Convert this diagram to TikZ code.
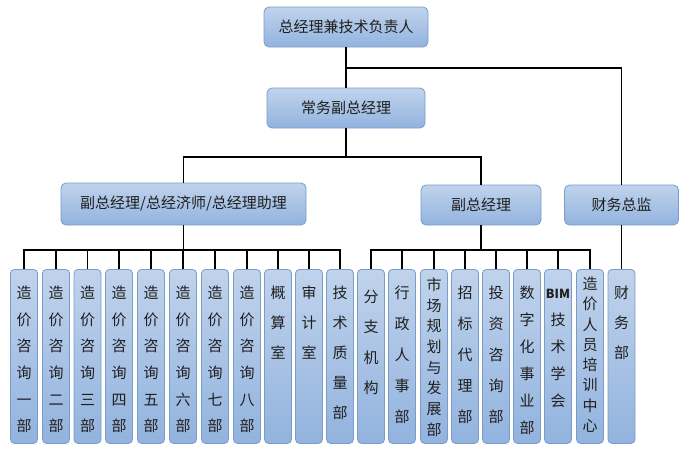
\documentclass[tikz,border=0pt]{standalone}
\usepackage{fontspec}
\setmainfont{Noto Sans CJK SC}
\definecolor{boxtop}{RGB}{192,211,236}
\definecolor{boxbot}{RGB}{146,179,222}
\definecolor{boxline}{RGB}{122,156,202}
% vertical text: baseline of first char, line spacing, chars
\newcommand\vtext[3]{\parbox[c][174pt][t]{27pt}{\centering\baselineskip=#2\relax\rule{0pt}{#1}#3\par}}

\begin{document}
\begin{tikzpicture}[x=1pt,y=-1pt,
	box/.style={draw=boxline, line width=0.8pt, rounded corners=5pt, top color=boxtop, bottom color=boxbot, inner sep=0pt, text=black!88, font=\fontsize{15}{18}\selectfont},
	head/.style={box, minimum height=40pt},
	dept/.style={box, rounded corners=4pt, minimum width=27pt, minimum height=174pt, anchor=north},
	link/.style={line width=1.6pt, black}]
	\useasboundingbox (0,0) rectangle (689,455);

	% top levels
	\node[head, minimum width=164pt] (ceo) at (346,27) {总经理兼技术负责人};
	\node[head, minimum width=158pt] (evp) at (346,108) {常务副总经理};
	\node[head, minimum width=245pt, minimum height=42pt] (vpl) at (183.5,204) {副总经理/总经济师/总经理助理};
	\node[head, minimum width=120pt] (vpr) at (481,205) {副总经理};
	\node[head, minimum width=114pt] (cfo) at (621.5,205) {财务总监};

	% departments under vpl
	\node[dept] (d1) at (24,269) {\vtext{29pt}{26.7pt}{造\\价\\咨\\询\\一\\部}};
	\node[dept] (d2) at (56,269) {\vtext{29pt}{26.7pt}{造\\价\\咨\\询\\二\\部}};
	\node[dept] (d3) at (87.5,269) {\vtext{29pt}{26.7pt}{造\\价\\咨\\询\\三\\部}};
	\node[dept] (d4) at (119,269) {\vtext{29pt}{26.7pt}{造\\价\\咨\\询\\四\\部}};
	\node[dept] (d5) at (151,269) {\vtext{29pt}{26.7pt}{造\\价\\咨\\询\\五\\部}};
	\node[dept] (d6) at (183,269) {\vtext{29pt}{26.7pt}{造\\价\\咨\\询\\六\\部}};
	\node[dept] (d7) at (215,269) {\vtext{29pt}{26.7pt}{造\\价\\咨\\询\\七\\部}};
	\node[dept] (d8) at (247,269) {\vtext{29pt}{26.7pt}{造\\价\\咨\\询\\八\\部}};
	\node[dept] (d9) at (278,269) {\vtext{29pt}{30pt}{概\\算\\室}};
	\node[dept] (d10) at (309,269) {\vtext{29pt}{30pt}{审\\计\\室}};
	\node[dept] (d11) at (340,269) {\vtext{29pt}{30pt}{技\\术\\质\\量\\部}};

	% departments under vpr
	\node[dept] (e1) at (371,269) {\vtext{33pt}{30.5pt}{分\\支\\机\\构}};
	\node[dept] (e2) at (402,269) {\vtext{29pt}{31pt}{行\\政\\人\\事\\部}};
	\node[dept] (e3) at (434,269) {\vtext{21pt}{20.7pt}{市\\场\\规\\划\\与\\发\\展\\部}};
	\node[dept] (e4) at (465,269) {\vtext{29pt}{31pt}{招\\标\\代\\理\\部}};
	\node[dept] (e5) at (496,269) {\vtext{29pt}{31pt}{投\\资\\咨\\询\\部}};
	\node[dept] (e6) at (527,269) {\vtext{29pt}{27pt}{数\\字\\化\\事\\业\\部}};
	\node[dept] (e7) at (558,269) {\vtext{29pt}{27pt}{{\fontsize{12.5}{13}\bfseries BIM}\\技\\术\\学\\会}};
	\node[dept] (e8) at (590,269) {\vtext{20pt}{20.3pt}{造\\价\\人\\员\\培\\训\\中\\心}};
	\node[dept] (f1) at (621.5,269) {\vtext{29pt}{30pt}{财\\务\\部}};

	% connectors
	\coordinate (tsplit) at (346,68);
	\coordinate (msplit) at (346,157);
	\coordinate (lbus) at (183.5,250);
	\coordinate (rbus) at (481,250);
	\draw[link] (ceo.south) -- (evp.north);
	\draw[link] (tsplit) -| (cfo.north);
	\draw[link] (evp.south) -- (msplit);
	\draw[link] (vpl.north) |- (msplit) -| (vpr.north);
	\draw[link] (vpl.south) -- (lbus);
	\draw[link] (vpr.south) -- (rbus);
	\draw[link] (cfo.south) -- (f1.north);
	\draw[link] (d1.north) -- (d1.north |- lbus) -- (d11.north |- lbus) -- (d11.north);
	\foreach \n in {d2,d3,d4,d5,d6,d7,d8,d9,d10}
		\draw[link] (\n.north) -- (\n.north |- lbus);
	\draw[link] (e1.north) -- (e1.north |- rbus) -- (e8.north |- rbus) -- (e8.north);
	\foreach \n in {e2,e3,e4,e5,e6,e7}
		\draw[link] (\n.north) -- (\n.north |- rbus);
\end{tikzpicture}
\end{document}
